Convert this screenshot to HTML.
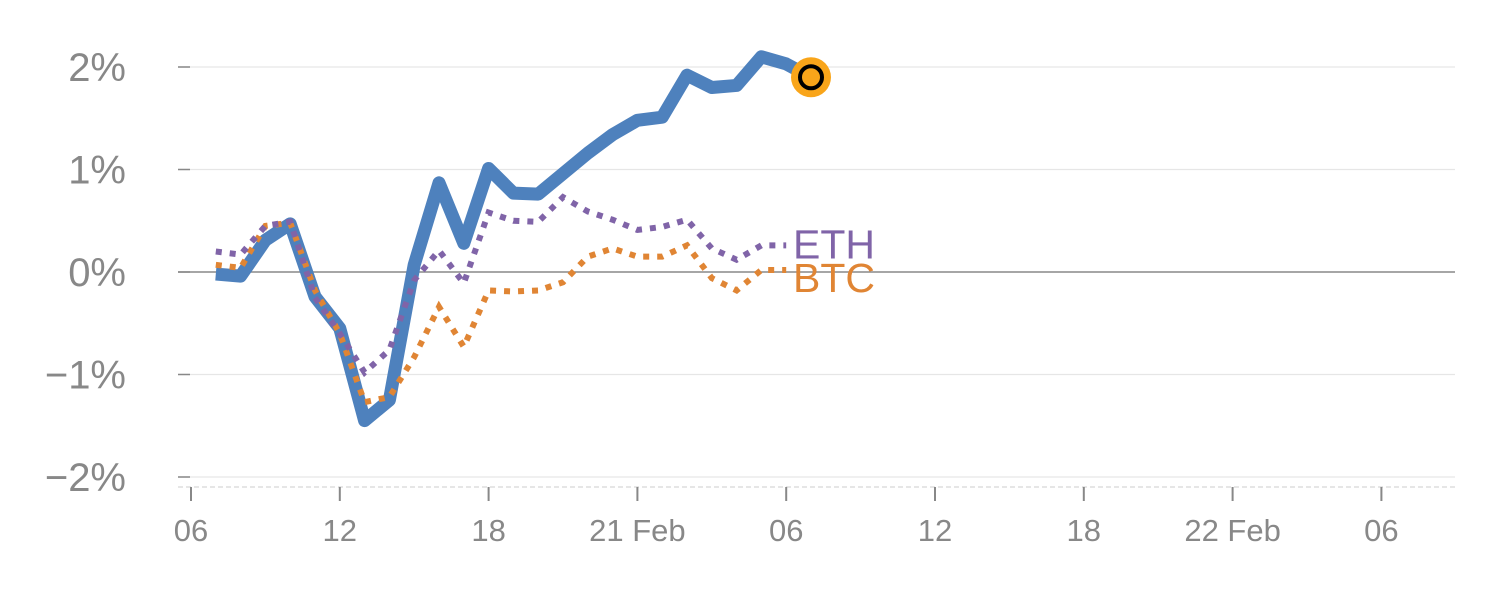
<!DOCTYPE html>
<html><head><meta charset="utf-8"><style>
html,body{margin:0;padding:0;background:#fff;}
svg{display:block;font-family:"Liberation Sans",sans-serif;}
</style></head><body>
<svg id="chart" width="1500" height="600" xmlns="http://www.w3.org/2000/svg"></svg>
<script>
const hours = [1,2,3,4,5,6,7,8,9,10,11,12,13,14,15,16,17,18,19,20,21,22,23,24,25];
const portfolio = [-0.02,-0.04,0.31,0.47,-0.24,-0.55,-1.45,-1.25,0.07,0.87,0.28,1.01,0.77,0.76,0.96,1.16,1.34,1.48,1.51,1.92,1.80,1.82,2.10,2.03,1.90];
const eth = [0.20,0.17,0.45,0.49,-0.25,-0.6,-0.98,-0.76,-0.08,0.21,-0.11,0.58,0.50,0.49,0.73,0.59,0.51,0.41,0.44,0.51,0.23,0.12,0.26,0.26];
const btc = [0.07,0.04,0.45,0.48,-0.18,-0.6,-1.27,-1.22,-0.83,-0.34,-0.73,-0.18,-0.19,-0.18,-0.10,0.15,0.23,0.15,0.15,0.26,-0.06,-0.18,0.02,0.02];
const yTicks = [2,1,0,-1,-2];
const yTickLabels = ["2%","1%","0%","\u22121%","\u22122%"];
const xTicks = [0,6,12,18,24,30,36,42,48];
const xTickLabels = ["06","12","18","21 Feb","06","12","18","22 Feb","06"];

const NS="http://www.w3.org/2000/svg";
const svg=document.getElementById('chart');
const x=h=>191+h*24.8;
const y=v=>272-v*102.5;
function mk(tag,attrs,parent){const e=document.createElementNS(NS,tag);for(const k in attrs)e.setAttribute(k,attrs[k]);(parent||svg).appendChild(e);return e;}

yTicks.forEach((v,i)=>{
  const g=mk('line',{x1:178,x2:1455,y1:y(v),y2:y(v),stroke:v===0?'#888':'#e6e6e6','stroke-width':v===0?1.5:1.2});
  
  
  const t=mk('line',{x1:178,x2:190,y1:y(v),y2:y(v),stroke:'#888','stroke-width':1.5});
  
  
  const l=mk('text',{x:126,y:y(v)+14,'text-anchor':'end','font-size':40,fill:'#888'});
  l.textContent=yTickLabels[i];
  
  
});
const ax=mk('line',{x1:178,x2:1455,y1:487,y2:487,stroke:'#ddd','stroke-width':1.5,'stroke-dasharray':'5,3'});


xTicks.forEach((h,i)=>{
  const t=mk('line',{x1:x(h),x2:x(h),y1:487,y2:501,stroke:'#888','stroke-width':2});
  
  
  const l=mk('text',{x:x(h),y:541,'text-anchor':'middle','font-size':31,fill:'#888'});
  l.textContent=xTickLabels[i];
  
  
});
function pts(arr){return arr.map((v,i)=>x(hours[i])+','+y(v)).join(' ');}
const pp=mk('polyline',{points:pts(portfolio),fill:'none',stroke:'#4e81bd','stroke-width':13,'stroke-linejoin':'round'});


const pb=mk('polyline',{points:pts(btc),fill:'none',stroke:'#e08534','stroke-width':6,'stroke-dasharray':'6,8'});


const pe=mk('polyline',{points:pts(eth),fill:'none',stroke:'#8064a8','stroke-width':6,'stroke-dasharray':'6,8'});


const le=mk('text',{x:793,y:y(eth[eth.length-1])+13,'font-size':41,fill:'#8064a8'});
le.textContent='ETH';


const lb=mk('text',{x:793,y:y(btc[btc.length-1])+22,'font-size':41,fill:'#e08534'});
lb.textContent='BTC';


const li=hours.length-1;
const c=mk('circle',{cx:x(hours[li]),cy:y(portfolio[li]),r:20,fill:'#f9a51a'});


const c2=mk('circle',{cx:x(hours[li]),cy:y(portfolio[li]),r:11,fill:'#f9a51a',stroke:'#000','stroke-width':4});


</script>
</body></html>
